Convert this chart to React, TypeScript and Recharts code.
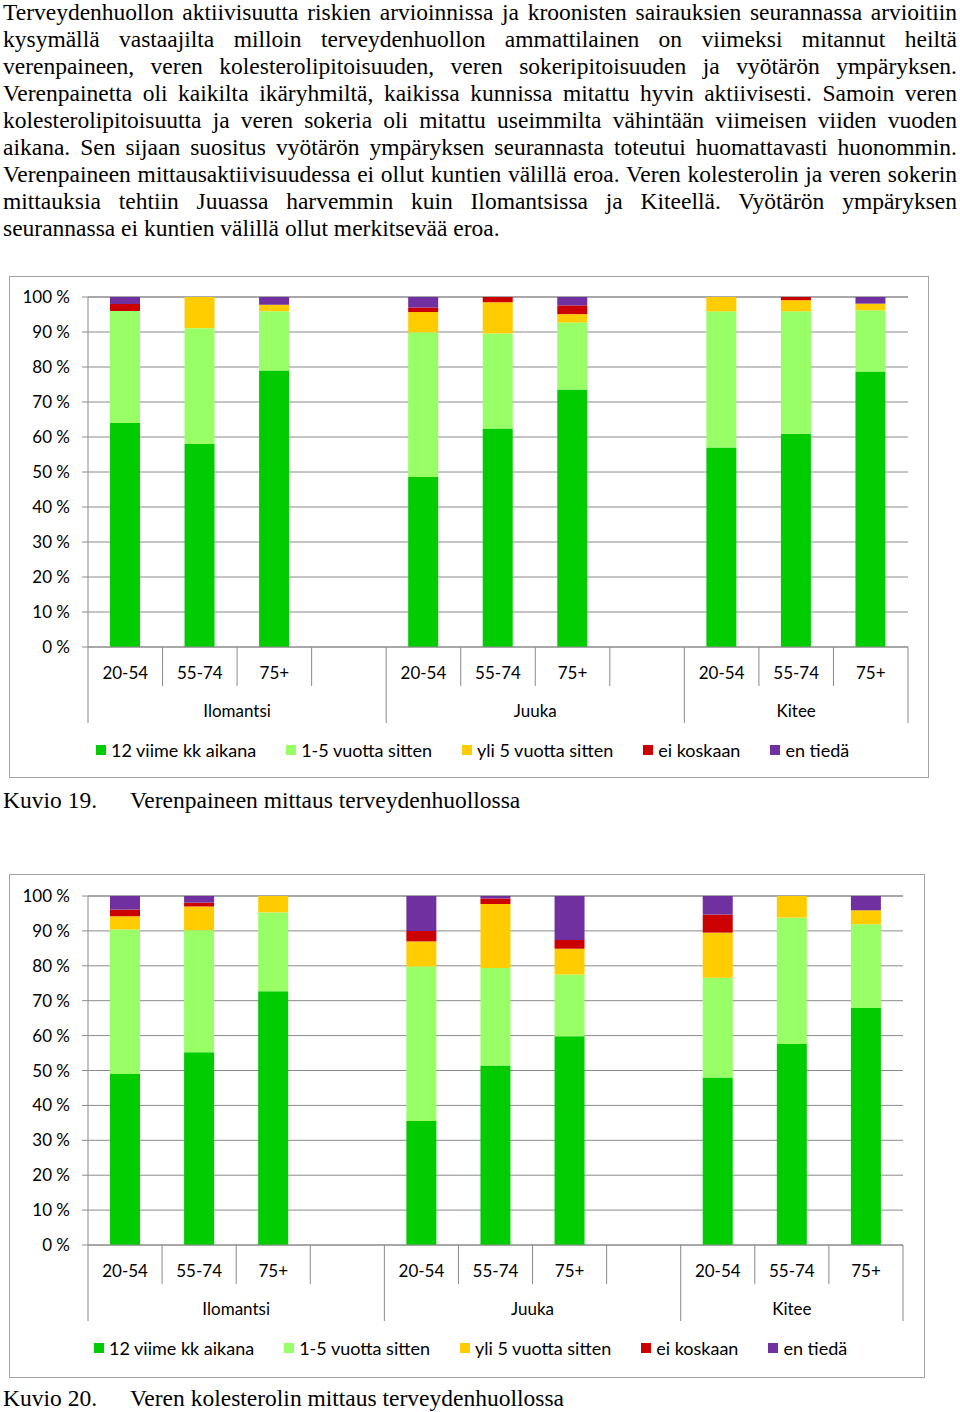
import React from 'react';
import { BarChart, Bar, XAxis, YAxis, CartesianGrid } from 'recharts';

const categories = [
  'Ilomantsi 20-54', 'Ilomantsi 55-74', 'Ilomantsi 75+', 'Ilomantsi tyhjä',
  'Juuka 20-54', 'Juuka 55-74', 'Juuka 75+', 'Juuka tyhjä',
  'Kitee 20-54', 'Kitee 55-74', 'Kitee 75+',
];
const ageLabels = ['20-54', '55-74', '75+', '', '20-54', '55-74', '75+', '', '20-54', '55-74', '75+'];
const groupIndex = [0, 0, 0, 0, 1, 1, 1, 1, 2, 2, 2];
const municipalities = ['Ilomantsi', 'Juuka', 'Kitee'];
const yTicks = [0, 10, 20, 30, 40, 50, 60, 70, 80, 90, 100];
const seriesNames = ['12 viime kk aikana', '1-5 vuotta sitten', 'yli 5 vuotta sitten', 'ei koskaan', 'en tiedä'];
const seriesColors = ['#00cc00', '#99ff66', '#ffcc00', '#cc0000', '#7030a0'];

// Kuvio 19: Verenpaineen mittaus
const bp12kk = [64, 58, 79, null, 48.6, 62.4, 73.6, null, 57, 60.9, 78.7];
const bp1to5 = [32, 33.1, 16.9, null, 41.3, 27.2, 19.1, null, 38.9, 35, 17.5];
const bpOver5 = [0, 8.9, 1.9, null, 5.8, 8.9, 2.4, null, 4.1, 3.2, 1.9];
const bpNever = [2, 0, 0, null, 1.3, 1.5, 2.5, null, 0, 0.9, 0];
const bpUnknown = [2, 0, 2.2, null, 3, 0, 2.4, null, 0, 0, 1.9];

// Kuvio 20: Veren kolesterolin mittaus
const ch12kk = [49, 55.2, 72.7, null, 35.5, 51.4, 59.8, null, 48, 57.6, 67.9];
const ch1to5 = [41.4, 35, 22.6, null, 44.3, 28, 17.7, null, 28.6, 36.2, 24];
const chOver5 = [3.8, 6.8, 4.7, null, 7.2, 18.3, 7.4, null, 12.9, 6.2, 4];
const chNever = [1.9, 1.1, 0, null, 3, 1.6, 2.5, null, 5.2, 0, 0];
const chUnknown = [3.9, 1.9, 0, null, 10, 0.7, 12.6, null, 5.3, 0, 4.1];

const paragraphLines = [
  'Terveydenhuollon aktiivisuutta riskien arvioinnissa ja kroonisten sairauksien seurannassa arvioitiin',
  'kysymällä vastaajilta milloin terveydenhuollon ammattilainen on viimeksi mitannut heiltä',
  'verenpaineen, veren kolesterolipitoisuuden, veren sokeripitoisuuden ja vyötärön ympäryksen.',
  'Verenpainetta oli kaikilta ikäryhmiltä, kaikissa kunnissa mitattu hyvin aktiivisesti. Samoin veren',
  'kolesterolipitoisuutta ja veren sokeria oli mitattu useimmilta vähintään viimeisen viiden vuoden',
  'aikana. Sen sijaan suositus vyötärön ympäryksen seurannasta toteutui huomattavasti huonommin.',
  'Verenpaineen mittausaktiivisuudessa ei ollut kuntien välillä eroa. Veren kolesterolin ja veren sokerin',
  'mittauksia tehtiin Juuassa harvemmin kuin Ilomantsissa ja Kiteellä. Vyötärön ympäryksen',
  'seurannassa ei kuntien välillä ollut merkitsevää eroa.',
];

const GRID = '#8a8a8a';
const SANS = 'Lato, "Open Sans", sans-serif';
const SERIF = '"Liberation Serif", "Times New Roman", serif';
const SERIF_SIZE = 23.5;

function buildRows(series: (number | null)[][]) {
  return categories.map((c, i) => {
    const row: any = { cat: c };
    series.forEach((s, k) => {
      row['s' + k] = s[i];
    });
    return row;
  });
}

function makeTick(slotW: number) {
  return (props: any) => {
    const { x, y, payload } = props;
    const i: number = payload && payload.index != null ? payload.index : props.index;
    const left = x - slotW / 2;
    const right = x + slotW / 2;
    const g = groupIndex[i];
    const isGroupStart = i === 0 || groupIndex[i - 1] !== g;
    const isLast = i === categories.length - 1;
    const members = groupIndex.map((gg, k) => (gg === g ? k : -1)).filter((k) => k >= 0);
    const mid = (members[0] + members[members.length - 1]) / 2;
    const showGroup = Math.floor(mid) === i;
    const gx = x + (mid - i) * slotW;
    return (
      <g>
        <line x1={left} x2={left} y1={y} y2={y + (isGroupStart ? 76 : 39)} stroke={GRID} strokeWidth={1} />
        {isLast && <line x1={right} x2={right} y1={y} y2={y + 76} stroke={GRID} strokeWidth={1} />}
        {ageLabels[i] ? (
          <text x={x} y={y + 25} textAnchor="middle" dominantBaseline="central" fontSize={17} fontFamily={SANS} fill="#000">
            {ageLabels[i]}
          </text>
        ) : null}
        {showGroup ? (
          <text x={gx} y={y + 63} textAnchor="middle" dominantBaseline="central" fontSize={17} fontFamily={SANS} fill="#000">
            {municipalities[g]}
          </text>
        ) : null}
      </g>
    );
  };
}

type ChartProps = {
  series: (number | null)[][];
  boxLeft: number;
  boxTop: number;
  boxWidth: number;
  boxHeight: number;
  margin: { top: number; right: number; bottom: number; left: number };
  legendLeft: number;
  legendTop: number;
};

function StackedChart(p: ChartProps) {
  const w = p.boxWidth - 2;
  const h = p.boxHeight - 2;
  const yAxisW = 78;
  const plotW = w - p.margin.left - p.margin.right - yAxisW;
  const slotW = plotW / categories.length;
  const rows = buildRows(p.series);
  return (
    <div
      style={{
        position: 'absolute',
        left: p.boxLeft,
        top: p.boxTop,
        width: p.boxWidth,
        height: p.boxHeight,
        border: '1px solid #a3a3a3',
        boxSizing: 'border-box',
        background: '#fff',
      }}
    >
      <BarChart width={w} height={h} data={rows} margin={p.margin} barSize={30}>
        <CartesianGrid vertical={false} stroke={GRID} />
        <XAxis
          dataKey="cat"
          interval={0}
          height={80}
          tickSize={0}
          tickMargin={0}
          tickLine={false}
          axisLine={{ stroke: GRID }}
          tick={makeTick(slotW)}
        />
        <YAxis
          width={yAxisW}
          domain={[0, 100]}
          ticks={yTicks}
          interval={0}
          tickFormatter={(v: number) => `${v} %`}
          tickSize={6}
          tickMargin={12}
          axisLine={{ stroke: GRID }}
          tickLine={{ stroke: GRID }}
          tick={{ fontSize: 17, fontFamily: SANS, fill: '#000' }}
        />
        {seriesNames.map((name, k) => (
          <Bar key={name} dataKey={'s' + k} name={name} stackId="a" fill={seriesColors[k]} isAnimationActive={false} />
        ))}
      </BarChart>
      <div
        style={{
          position: 'absolute',
          left: p.legendLeft,
          top: p.legendTop,
          height: 20,
          display: 'flex',
          alignItems: 'center',
          fontFamily: SANS,
          fontSize: 18,
          color: '#000',
          whiteSpace: 'nowrap',
        }}
      >
        {seriesNames.map((name, k) => (
          <div key={name} style={{ display: 'flex', alignItems: 'center', marginRight: 30 }}>
            <span style={{ display: 'inline-block', width: 10, height: 10, background: seriesColors[k], marginRight: 5 }} />
            <span>{name}</span>
          </div>
        ))}
      </div>
    </div>
  );
}

export default function App() {
  const caption: React.CSSProperties = {
    position: 'absolute',
    fontSize: SERIF_SIZE,
    lineHeight: '27px',
    whiteSpace: 'nowrap',
  };
  return (
    <div
      style={{
        position: 'absolute',
        left: 0,
        top: 0,
        width: 960,
        height: 1412,
        background: '#fff',
        fontFamily: SERIF,
        color: '#000',
        overflow: 'hidden',
      }}
    >
      <div style={{ position: 'absolute', left: 3, top: -1.5, width: 954, fontSize: SERIF_SIZE }}>
        {paragraphLines.map((line, i) => (
          <div
            key={i}
            style={{
              height: 27,
              lineHeight: '27px',
              textAlign: i === paragraphLines.length - 1 ? 'left' : 'justify',
              textAlignLast: i === paragraphLines.length - 1 ? 'left' : 'justify',
            }}
          >
            {line}
          </div>
        ))}
      </div>

      <StackedChart
        series={[bp12kk, bp1to5, bpOver5, bpNever, bpUnknown]}
        boxLeft={9}
        boxTop={276}
        boxWidth={920}
        boxHeight={502}
        margin={{ top: 20, right: 20, bottom: 50, left: 0 }}
        legendLeft={86}
        legendTop={463}
      />
      <div style={{ ...caption, left: 3, top: 786.5 }}>Kuvio 19.</div>
      <div style={{ ...caption, left: 130, top: 786.5 }}>Verenpaineen mittaus terveydenhuollossa</div>

      <StackedChart
        series={[ch12kk, ch1to5, chOver5, chNever, chUnknown]}
        boxLeft={9}
        boxTop={874}
        boxWidth={916}
        boxHeight={504}
        margin={{ top: 21, right: 21, bottom: 52, left: 0 }}
        legendLeft={84}
        legendTop={463}
      />
      <div style={{ ...caption, left: 3, top: 1384.5 }}>Kuvio 20.</div>
      <div style={{ ...caption, left: 130, top: 1384.5 }}>Veren kolesterolin mittaus terveydenhuollossa</div>
    </div>
  );
}
